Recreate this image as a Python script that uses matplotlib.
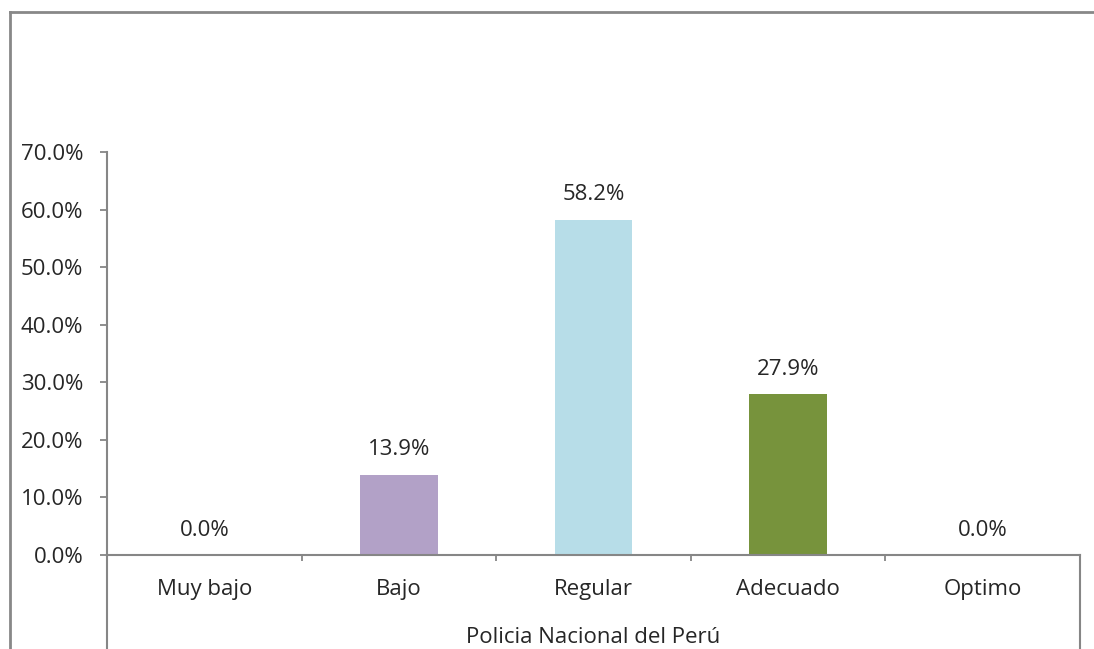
import numpy as np
from matplotlib import pyplot as plt
from matplotlib.lines import Line2D

categories = ["Muy bajo", "Bajo", "Regular", "Adecuado", "Optimo"]
values = [0.0, 13.9, 58.2, 27.9, 0.0]
colors = ["#B2A1C7", "#B2A1C7", "#B7DDE8", "#77933C", "#77933C"]
yticks = [0, 10, 20, 30, 40, 50, 60, 70]
xlabel = "Policia Nacional del Perú"

plt.rcParams['font.family'] = ['Open Sans', 'DejaVu Sans']
W, H = 1094, 649
fig = plt.figure(figsize=(W / 100, H / 100), dpi=100)
ax = fig.add_axes([107 / W, 94 / H, (1080 - 107) / W, (555 - 152) / H])

gray = "#868686"
txt = "#262626"
fs = 16
x = np.arange(len(categories))
ax.bar(x, values, width=0.4, color=colors, zorder=2)
for xi, v in zip(x, values):
    ax.annotate(f"{v:.1f}%", (xi, v), xytext=(0, 18), textcoords="offset points",
                ha="center", va="center", fontsize=fs, color=txt)

ax.set_xlim(-0.5, len(categories) - 0.5)
ax.set_ylim(0, 70)
ax.set_yticks(yticks)
ax.set_yticklabels([f"{t:.1f}%" for t in yticks], fontsize=fs, color=txt)
ax.set_xticks(x)
ax.set_xticklabels(categories, fontsize=fs, color=txt)
ax.tick_params(axis="x", which="major", length=0, pad=17)
ax.set_xticks(np.arange(0.5, len(categories) - 0.5, 1), minor=True)
ax.tick_params(axis="x", which="minor", length=4, width=1.3, color=gray, direction="out")
ax.tick_params(axis="y", length=5, width=1.3, color=gray, pad=12)

for s in ["top", "right"]:
    ax.spines[s].set_visible(False)
for s in ["left", "bottom"]:
    ax.spines[s].set_color(gray)
    ax.spines[s].set_linewidth(1.5)

# category axis frame lines reaching down to the axis title
for xa in [0, 1]:
    ax.plot([xa, xa], [0, -0.3], transform=ax.transAxes, clip_on=False,
            color=gray, lw=1.5)
ax.text(0.5, -0.205, xlabel, transform=ax.transAxes, ha="center", va="center",
        fontsize=fs, color=txt)

# outer chart border
fig.add_artist(Line2D([10 / W, 10 / W], [0, 1 - 12 / H], color="#888888", lw=2))
fig.add_artist(Line2D([10 / W, 1], [1 - 12 / H, 1 - 12 / H], color="#888888", lw=2))

fig.savefig("out.png", dpi=100)
